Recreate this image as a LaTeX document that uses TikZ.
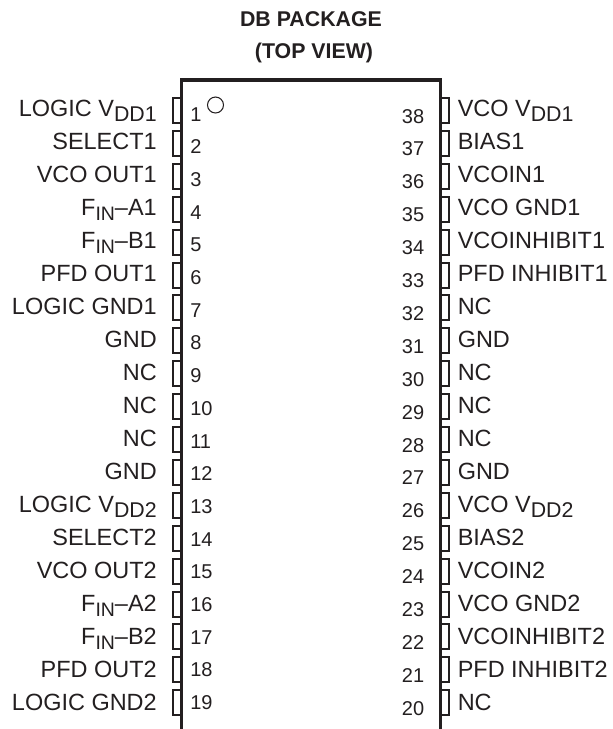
\documentclass[tikz,border=0pt]{standalone}
\usepackage{fontspec}
\setmainfont{Liberation Sans}
\definecolor{ink}{HTML}{231F20}
\newcommand{\pinsub}[1]{\raisebox{-4.3pt}{\fontsize{16}{16}\selectfont #1}}
\newcommand{\insub}[1]{\raisebox{-4.3pt}{\fontsize{14.6}{15}\selectfont #1}}
\tikzset{
  x=0.75pt,y=-0.75pt,
  pinbox/.style={draw=ink,line width=1.5pt,line join=miter},
  body/.style={draw=ink,line width=2.7pt,line cap=butt,line join=miter},
  pinlabel/.style={inner sep=0pt,text=ink,font=\fontsize{17.6}{17.6}\selectfont},
  leftlabel/.style={pinlabel,anchor=base east},
  rightlabel/.style={pinlabel,anchor=base west},
  pinnum/.style={inner sep=0pt,text=ink,font=\fontsize{15}{15}\selectfont},
  leftnum/.style={pinnum,anchor=base west},
  rightnum/.style={pinnum,anchor=base east},
  titletext/.style={inner sep=0pt,text=ink,anchor=base,font=\fontsize{16}{16}\bfseries\selectfont},
}
\begin{document}
\begin{tikzpicture}
\useasboundingbox (0,0) rectangle (612,729);
\node[titletext] (t1) at (311,26) {DB PACKAGE};
\node[titletext] (t2) at (314,58) {(TOP VIEW)};
\draw[body] (181.5,729) -- (181.5,80) -- (440.5,80) -- (440.5,729);
\draw[draw=ink,line width=0.8pt] (215.5,105) coordinate (mk) circle (8);
\foreach \n/\t [count=\i from 0] in {
 1/{LOGIC V\pinsub{DD1}},2/SELECT1,3/VCO OUT1,4/{F\insub{IN}--A1},5/{F\insub{IN}--B1},6/PFD OUT1,7/LOGIC GND1,8/GND,9/NC,10/NC,11/NC,12/GND,
 13/{LOGIC V\pinsub{DD2}},14/SELECT2,15/VCO OUT2,16/{F\insub{IN}--A2},17/{F\insub{IN}--B2},18/PFD OUT2,19/LOGIC GND2}{
  \pgfmathsetmacro\yy{98+32.9*\i}
  \pgfmathsetmacro\ly{116+33*\i}
  \pgfmathsetmacro\ny{121+32.7*\i}
  \draw[pinbox] (180.5,\yy) -- (172.5,\yy) -- (172.5,\yy+25) -- (180.5,\yy+25);
  \node[leftlabel] (l\n) at (157,\ly) {\t};
  \node[leftnum] (n\n) at (190,\ny) {\n};
}
\foreach \n/\t [count=\i from 0] in {
 38/{VCO V\pinsub{DD1}},37/BIAS1,36/VCOIN1,35/VCO GND1,34/VCOINHIBIT1,33/PFD INHIBIT1,32/NC,31/GND,30/NC,29/NC,28/NC,27/GND,
 26/{VCO V\pinsub{DD2}},25/BIAS2,24/VCOIN2,23/VCO GND2,22/VCOINHIBIT2,21/PFD INHIBIT2,20/NC}{
  \pgfmathsetmacro\yy{98+32.9*\i}
  \pgfmathsetmacro\ly{116+33*\i}
  \pgfmathsetmacro\ny{123+32.9*\i}
  \draw[pinbox] (441.5,\yy) -- (449,\yy) -- (449,\yy+25) -- (441.5,\yy+25);
  \node[rightlabel] (l\n) at (457.5,\ly) {\t};
  \node[rightnum] (n\n) at (424.5,\ny) {\n};
}
\end{tikzpicture}
\end{document}
